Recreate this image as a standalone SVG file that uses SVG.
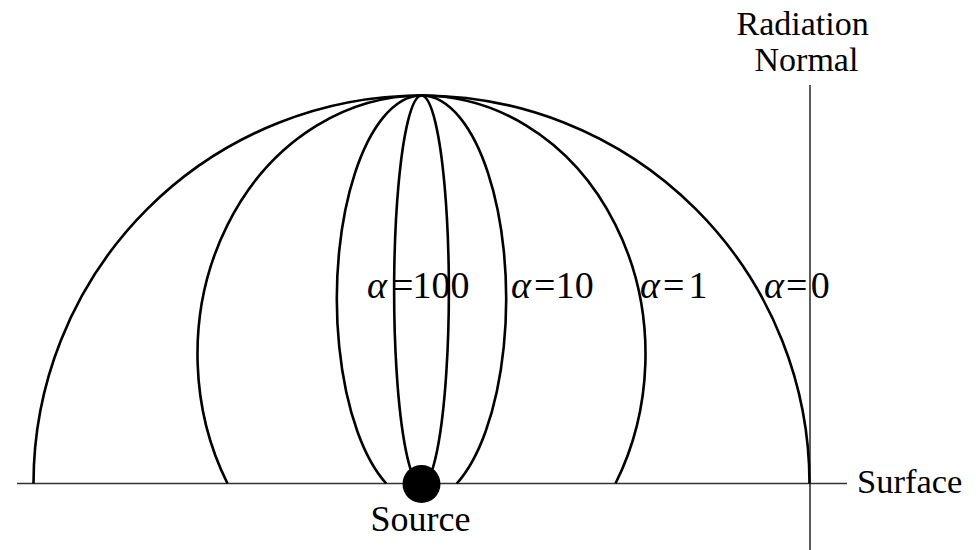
<svg xmlns="http://www.w3.org/2000/svg" width="976" height="550" viewBox="0 0 976 550">
  <style>
    .axis { stroke: #333333; stroke-width: 1.6; fill: none; }
    .curve { stroke: #000000; stroke-width: 2.6; fill: none; }
    .lbl { font-family: "Liberation Serif", "Times New Roman", serif; font-size: 34px; fill: #000000; }
    .al { font-family: "Liberation Serif", "Times New Roman", serif; font-size: 38px; fill: #000000; }
    .gr { font-style: italic; }
  </style>
  <rect width="976" height="550" fill="#ffffff"/>
  <g id="axes">
    <line class="axis" x1="17" y1="483.5" x2="847" y2="483.5"/>
    <line class="axis" x1="810" y1="85" x2="810" y2="550"/>
  </g>
  <g id="curves">
    <path id="alpha0" class="curve" d="M 33.5 483.5 A 388 388 0 1 1 809.5 483.5"/>
    <path id="alpha1" class="curve" d="M 227.5 483.5 A 224 258.67 0 1 1 615.5 483.5"/>
    <path id="alpha10" class="curve" d="M 386.23 483.5 A 84.67 203.23 0 1 1 456.77 483.5"/>
    <path id="alpha100" class="curve" d="M 417.66 483.5 A 27.37 194.96 0 1 1 425.34 483.5"/>
  </g>
  <g id="source">
    <circle cx="421.5" cy="484" r="19" fill="#000000"/>
    <text class="lbl" x="370.5" y="531" style="font-size:36px">Source</text>
  </g>
  <g id="surface">
    <text class="lbl" x="857" y="493" style="font-size:34.5px">Surface</text>
  </g>
  <g id="normal">
    <text class="lbl" x="736.5" y="35">Radiation</text>
    <text class="lbl" x="754.5" y="71">Normal</text>
  </g>
  <g id="labels">
    <text class="al" y="298"><tspan class="gr" x="367">α</tspan><tspan x="392">=</tspan><tspan x="412.5">100</tspan></text>
    <text class="al" y="298"><tspan class="gr" x="511">α</tspan><tspan x="534">=</tspan><tspan x="555.8">10</tspan></text>
    <text class="al" y="298"><tspan class="gr" x="640">α</tspan><tspan x="663">=</tspan><tspan x="688.5">1</tspan></text>
    <text class="al" y="298"><tspan class="gr" x="764">α</tspan><tspan x="786">=</tspan><tspan x="810.7">0</tspan></text>
  </g>
</svg>
